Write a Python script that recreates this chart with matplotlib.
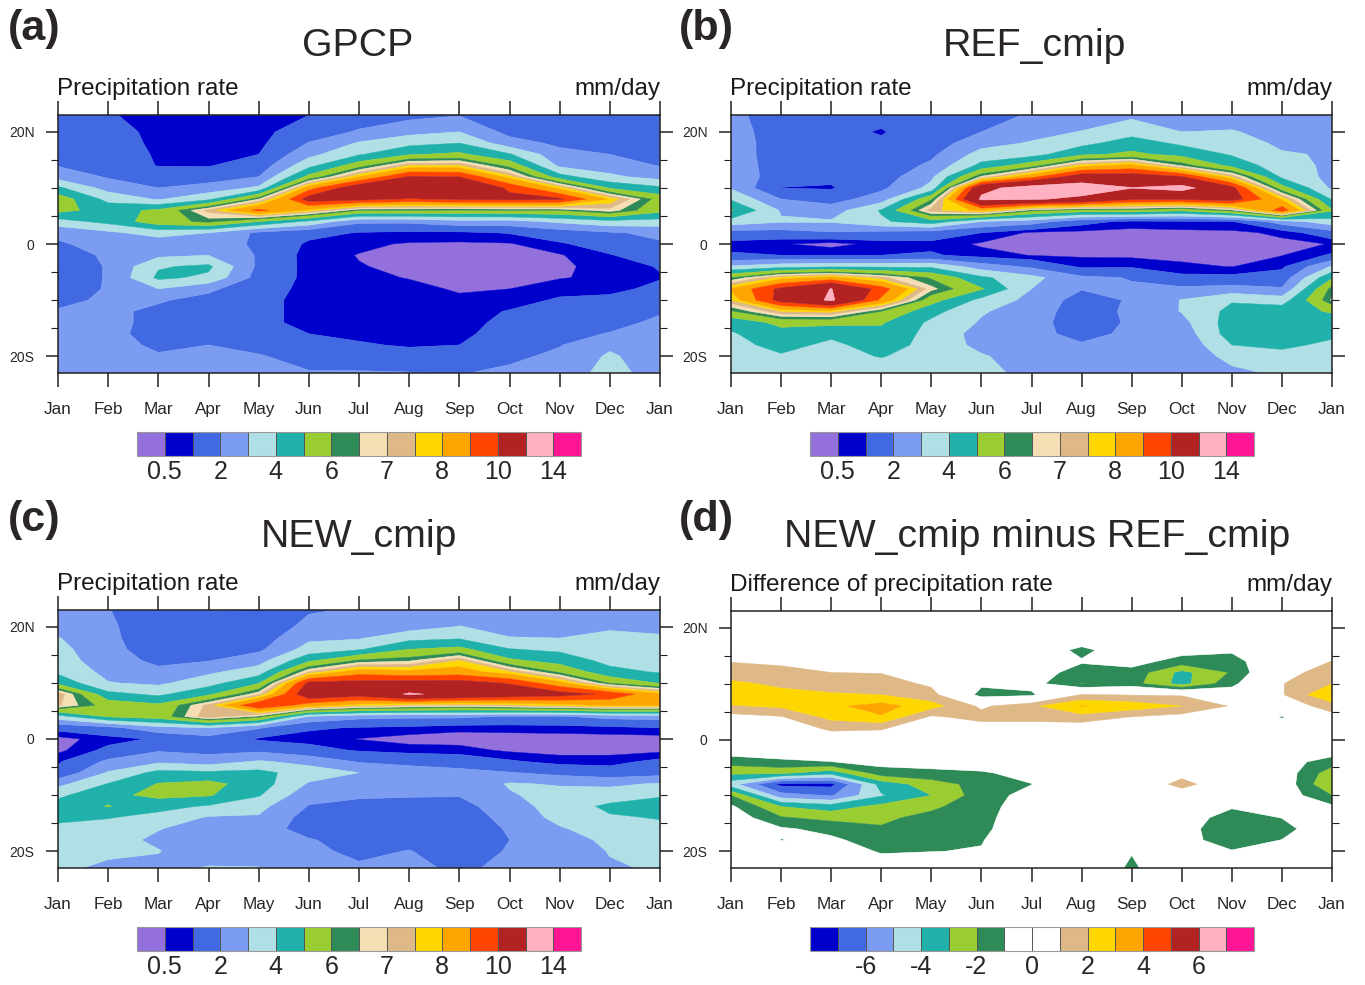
import numpy as np
import matplotlib
matplotlib.use('Agg')
import matplotlib.pyplot as plt
from matplotlib.ticker import MultipleLocator

plt.rcParams['font.family'] = ['Liberation Sans', 'DejaVu Sans']

W, H = 1365, 985

months = ['Jan', 'Feb', 'Mar', 'Apr', 'May', 'Jun', 'Jul', 'Aug', 'Sep', 'Oct', 'Nov', 'Dec', 'Jan']
lats = [23, 20, 18, 16, 14, 12, 10, 8, 6, 4, 2, 0, -2, -4, -6, -8, -10, -12, -14, -16, -18, -20, -23]

# one row per month, values run from north to south (mm/day)
gpcp = [
    [1.5, 1.5, 1.6, 1.8, 1.95, 2.6, 4.2, 5.6, 5.3, 3.6, 2.2, 1.9, 1.7, 1.6, 1.6, 1.7, 1.85, 2.05, 2.2, 2.3, 2.4, 2.4, 2.5],
    [1.05, 1.3, 1.35, 1.5, 1.7, 1.9, 2.6, 3.7, 4.6, 4.3, 2.8, 2.3, 2.1, 2.05, 2.05, 2.05, 2.1, 2.2, 2.3, 2.3, 2.4, 2.5, 2.5],
    [.8, .8, .85, .9, .95, 1.6, 2, 2.9, 5.2, 5.6, 3.4, 2.4, 2.8, 3.9, 4.2, 3, 2.1, 1.8, 1.7, 1.6, 1.8, 2.1, 2.3],
    [.75, .75, .8, .85, .95, 1.5, 2.4, 3.8, 7.2, 6.2, 3, 2.3, 3, 4.2, 3.8, 2.2, 1.7, 1.5, 1.4, 1.5, 2, 2.2, 2.4],
    [.7, .75, .8, 1, 1.4, 2, 3.2, 6.5, 9.3, 5, 1.8, 1.9, 1.9, 1.8, 1.6, 1.35, 1.2, 1.15, 1.1, 1.2, 1.6, 2.1, 2.4],
    [1, 1.5, 2.05, 2.7, 3.7, 5.3, 8.6, 10.6, 7.8, 3.8, 1.3, .85, .7, .75, .8, .8, .8, .85, .9, 1, 1.1, 1.5, 2.1],
    [1.5, 2.1, 3.1, 3.9, 5.6, 8, 11, 10.4, 6, 2.2, .95, .6, .48, .52, .6, .7, .75, .8, .85, .9, 1.05, 1.4, 2.1],
    [1.7, 2.7, 3.7, 4.9, 7.5, 10.1, 11.5, 9.9, 6, 2.2, .85, .45, .4, .42, .48, .62, .7, .75, .8, .85, .95, 1.2, 2.05],
    [1.95, 3, 4, 5.2, 7.5, 10, 11.5, 10.2, 5.9, 2.65, .85, .42, .38, .38, .4, .45, .58, .7, .75, .85, 1, 1.3, 1.95],
    [1.3, 1.7, 2.4, 4.1, 5.7, 7.7, 9.8, 10.3, 6, 2.6, 1.05, .45, .38, .38, .4, .5, .7, 1.05, 1.2, 1.3, 1.5, 1.8, 2.2],
    [.98, 1.5, 1.8, 2.3, 2.8, 4.4, 7.8, 10.2, 6, 3.2, 1.5, .9, .45, .4, .47, .75, 1.1, 1.3, 1.5, 1.7, 1.95, 2.2, 2.4],
    [1.2, 1.4, 1.7, 2, 2.5, 3.2, 4.9, 7.9, 6.8, 3.7, 1.9, 1.4, .95, .7, .6, .8, 1.2, 1.5, 1.7, 2.05, 2.8, 3.15, 3.4],
    [1.5, 1.5, 1.6, 1.8, 1.95, 2.6, 4.2, 5.6, 5.3, 3.6, 2.2, 1.9, 1.5, 1.05, .95, 1.2, 1.5, 1.9, 2.2, 2.3, 2.4, 2.4, 2.5],
]

ref_cmip = [
    [2.3, 2.5, 2.6, 2.6, 2.7, 2.8, 2.9, 3.9, 5.1, 3.6, 1.6, .75, 1.1, 3.1, 6, 8.1, 7.5, 5.9, 4.3, 3.9, 3.7, 3.5, 3.3],
    [1.4, 1.4, 1.4, 1.4, 1.4, 1.4, .98, 2, 2.9, 3.1, 1.6, .55, 1, 3.6, 7.7, 10.3, 10.5, 7.5, 5.3, 4.6, 4.3, 3.9, 3.5],
    [1.3, 1.2, 1.2, 1.2, 1.2, 1.2, .92, 1.6, 2.5, 3.1, 1.9, .3, .95, 3.8, 8.3, 12.05, 12.25, 7.7, 5.3, 4.2, 3.8, 3.7, 3.5],
    [1.2, .95, 1.1, 1.25, 1.35, 1.5, 1.8, 2.5, 4.1, 3.85, 1.7, .7, 1, 3.8, 7.2, 9.5, 8.8, 6, 5.1, 4.7, 4.4, 4.05, 3.5],
    [1.3, 1.4, 1.5, 1.8, 2.2, 2.8, 3.3, 5.9, 7.3, 4.6, 1.5, .8, 1.1, 3.8, 5.9, 6.7, 5.4, 4.35, 3.8, 3.7, 3.7, 3.6, 3.4],
    [1.6, 2, 2.6, 3.4, 4.3, 6.6, 11.5, 12.3, 8.2, 3, 1, .42, .7, 2.5, 4.2, 5.1, 3.7, 3.1, 2.9, 2.6, 2.7, 3.1, 3.3],
    [2.1, 2.6, 3.1, 3.6, 5.6, 8.7, 12.8, 12.2, 6.2, 2.5, .4, .35, .48, 1.8, 3.3, 3, 2.7, 2.5, 2.4, 2.3, 2.3, 2.5, 2.7],
    [2.3, 3.05, 3.7, 4.8, 7.7, 10.8, 13, 11.6, 5.6, 1.3, .35, .3, .42, .85, 2.2, 2.05, 1.6, 1.5, 1.45, 1.7, 2.1, 2.3, 2.6],
    [2.8, 3.6, 4.5, 5.2, 8.3, 10.7, 12.05, 10.2, 5.7, .8, .32, .28, .38, .9, 1.95, 2.1, 2.1, 2.2, 2.15, 2.2, 2.3, 2.5, 2.7],
    [2.4, 3, 3.8, 4.7, 6.4, 10.1, 12.6, 10.2, 5.2, .9, .35, .28, .35, .6, 1.2, 2.2, 3.05, 3.05, 2.7, 2.4, 2.2, 2.1, 2.1],
    [2.3, 3.1, 3.5, 3.9, 4.7, 7.4, 10.4, 10.6, 6.3, .95, .38, .28, .35, .48, 1.2, 2.4, 3.9, 4.3, 4.5, 4.5, 4, 3.4, 2.7],
    [2.2, 2.5, 2.8, 3.1, 3.4, 3.8, 5.4, 7.9, 9.6, 2.5, .6, .38, .48, .85, 1.4, 2.1, 3.5, 4.6, 4.5, 4.5, 4.2, 3.7, 3.2],
    [2.3, 2.5, 2.8, 2.9, 2.8, 2.7, 2.8, 3.9, 5.1, 3.6, 1.6, .52, 1.1, 3.1, 4.9, 6.3, 6.6, 5.1, 4.5, 4.2, 3.8, 3.5, 3.3],
]

new_cmip = [
    [2.1, 2.6, 3.05, 3.3, 3.5, 3.8, 4.7, 7.4, 7.1, 3.6, 1.3, .3, .35, .9, 1.2, 2.7, 3.8, 4.4, 4.2, 3.8, 3.4, 3.2, 3.2],
    [2.05, 2.2, 2.25, 2.3, 2.4, 2.7, 3.05, 4.3, 5.6, 5.1, 1.7, .75, 1.2, 2.2, 3.1, 4.05, 4.7, 5.05, 4.05, 3.6, 3.4, 3.2, 2.8],
    [1.2, 1.25, 1.3, 1.5, 1.8, 2.2, 2.8, 3.8, 5.2, 5.5, 2.7, 1.1, 1.9, 2.8, 4.3, 5.05, 5.3, 4.3, 3.7, 3.05, 2.8, 3.05, 2.7],
    [1, 1.2, 1.25, 1.5, 1.95, 2.8, 3.6, 4.8, 7.2, 7.4, 3, 1.6, 1.7, 2.5, 4.2, 5.3, 5.1, 3.9, 2.9, 2.5, 2.4, 2.3, 3.1],
    [.98, 1.3, 1.5, 1.8, 2.6, 3.5, 4.9, 6.9, 10, 6.3, 2.1, .9, 1.8, 3.1, 4.3, 4.5, 4.1, 3.3, 2.9, 2.6, 2.4, 2.3, 3.05],
    [1.9, 2.3, 2.8, 3.4, 4.8, 7, 10.3, 11, 8.5, 2.9, 1.1, .75, 1.3, 2.7, 3.5, 2.9, 2.3, 1.95, 1.6, 1.5, 2.1, 2.3, 2.6],
    [2.1, 2.5, 2.9, 3.9, 6.1, 8.5, 10.4, 10.6, 7.6, 2.3, .95, .48, .92, 1.9, 3, 2.5, 2.1, 1.8, 1.6, 1.5, 1.5, 1.7, 2.2],
    [2.2, 2.6, 3.7, 5, 6.4, 8.2, 10.5, 12.2, 7.2, 2.2, .85, .28, .75, 1.7, 2.5, 2.3, 2.05, 1.8, 1.5, 1.4, 1.6, 2.05, 2.4],
    [2.3, 3.05, 3.9, 5.3, 7.5, 8.4, 10.5, 11.5, 7, 2.2, .65, .25, .7, 1.5, 2.3, 2.2, 2.05, 1.7, 1.5, 1.4, 1.4, 1.4, 1.7],
    [2.1, 2.6, 3.05, 4.05, 5.2, 7.5, 9.9, 10.9, 7.3, 1.9, .7, .25, .4, 1.1, 2.05, 3.1, 2.9, 2.5, 2.3, 2.1, 2, 2.1, 2.4],
    [2.1, 2.6, 3, 3.8, 4.6, 5.8, 8.3, 10.5, 7.7, 1.9, .75, .25, .3, .75, 1.7, 2.9, 3.4, 3.5, 3.3, 2.9, 2.6, 2.4, 2.3],
    [2.3, 2.9, 3.2, 3.4, 3.7, 4.3, 5.9, 9.8, 8.1, 2.3, .85, .25, .3, .75, 1.4, 2.8, 3.5, 4.2, 3.9, 3.5, 3.2, 3.05, 2.9],
    [2.2, 2.8, 3.1, 3.3, 3.5, 3.9, 4.9, 8.2, 8, 2.4, 1, .25, .35, 1.2, 1.6, 3.1, 3.9, 4.4, 4.05, 3.8, 3.5, 3.3, 3.1],
]

new_minus_ref = [
    [0, .1, .2, .4, .95, 1.5, 2.2, 3, 1.9, .6, .2, -.1, -.4, -1.6, -2.8, -4.6, -2, -.8, -.3, -.2, -.2, -.1, 0],
    [0, .1, .2, .4, .8, 1.3, 1.8, 2.3, 2.2, .9, .3, -.1, -.4, -1.2, -2.8, -7.3, -5.6, -3, -1.9, -.85, -1.02, -.4, -.1],
    [0, .1, .2, .4, .7, 1, 1.6, 2.1, 2.8, 2.3, 1.2, .4, -.2, -1.02, -3.6, -7.3, -6.1, -3.5, -2.3, -1.3, -.8, -.4, -.1],
    [0, .1, .2, .4, .7, .95, 1.5, 2, 3.4, 2.9, 1.1, .4, -.1, -.6, -1.5, -3.6, -4.1, -2.7, -2.2, -1.9, -1.5, -1.1, -.4],
    [0, .1, .1, .2, .3, .5, .8, 1.4, 2.4, .8, .3, .1, -.1, -.5, -1.3, -2.5, -3, -2.2, -1.7, -1.5, -1.4, -1.02, -.3],
    [0, .1, 0, -.1, -.2, -.3, -.8, -1.4, .8, 1.4, .4, .1, -.1, -.5, -1.1, -1.6, -1.5, -1.4, -1.3, -1.2, -1.05, -.95, -.2],
    [0, 0, 0, -.1, -.2, -.5, -.6, -1.2, 1.8, 1.4, .4, .1, -.1, -.3, -.7, -1.02, -.6, -.4, -.3, -.3, -.2, -.2, -.1],
    [0, 0, -.3, -1.3, -.9, -1.4, -2.05, 1.1, 3.05, 1.6, .3, .1, -.1, -.1, -.1, -.1, -.1, -.1, -.1, -.1, -.1, -.1, -.2],
    [0, 0, -.1, -.2, -.6, -1.35, -1.6, .95, 2.6, .95, .3, .1, 0, 0, -.1, -.1, -.1, -.1, -.1, -.1, -.1, -.95, -1.15],
    [0, 0, -.1, -.6, -1.4, -3.3, -3.4, .9, 2, .6, .2, .1, 0, .1, .6, 1.4, .3, 0, -.5, -.7, -.7, -.2, -.2],
    [0, 0, -.1, -.8, -1.5, -1.9, -1.3, -.3, .9, .3, .1, 0, 0, 0, .1, .1, 0, -.9, -1.4, -1.5, -1.4, -.95, -.2],
    [.1, .1, .1, .2, .3, .6, .95, .9, .3, -1.1, -.1, 0, -.1, -.5, -.3, -.2, -.3, -.2, -.98, -1.35, -.98, -.3, -.1],
    [0, .1, .2, .5, 1.02, 1.5, 2, 3.05, 1.5, .6, .2, -.1, -.4, -1.5, -2.6, -3.1, -2, -.8, -.3, -.2, -.1, -.1, 0],
]

precip_levels = [0.5, 1, 2, 3, 4, 5, 6, 6.5, 7, 7.5, 8, 9, 10, 12, 14]
precip_ticks = [0.5, 2, 4, 6, 7, 8, 10, 14]
precip_labels = ['0.5', '2', '4', '6', '7', '8', '10', '14']
precip_colors = ['#9370db', '#0000cd', '#4169e1', '#7b9cf0', '#b0e0e6', '#20b2aa', '#9acd32', '#2e8b57',
                 '#f5deb3', '#deb887', '#ffd700', '#ffa500', '#ff4500', '#b22222', '#ffb0c1', '#ff1493']

diff_levels = [-7, -6, -5, -4, -3, -2, -1, 0, 1, 2, 3, 4, 5, 6, 7]
diff_ticks = [-6, -4, -2, 0, 2, 4, 6]
diff_labels = ['-6', '-4', '-2', '0', '2', '4', '6']
diff_colors = ['#0000cd', '#4169e1', '#7b9cf0', '#b0e0e6', '#20b2aa', '#9acd32', '#2e8b57', '#ffffff',
               '#ffffff', '#deb887', '#ffd700', '#ffa500', '#ff4500', '#b22222', '#ffb0c1', '#ff1493']

TEXT = '#2a2626'


def px_axes(fig, x0, y0, x1, y1):
    return fig.add_axes([x0 / W, 1 - y1 / H, (x1 - x0) / W, (y1 - y0) / H])


def panel(fig, box, cbox, data, levels, colors, ticks, labels, tag, tag_xy, title, title_x, title_y, left_text):
    ax = px_axes(fig, *box)
    z = np.array(data).T
    cf = ax.contourf(np.arange(13), lats, z, levels=levels, colors=colors, extend='both', antialiased=True)
    cf.set_edgecolor('face')
    cf.set_linewidth(0.3)
    ax.set_xlim(0, 12)
    ax.set_ylim(-23, 23)
    ax.set_xticks(range(13))
    ax.set_xticklabels(months, fontsize=12.3, color=TEXT)
    ax.set_yticks([-20, 0, 20])
    ax.set_yticklabels(['20S', '0', '20N'], fontsize=10, color=TEXT)
    ax.yaxis.set_minor_locator(MultipleLocator(5))
    ax.tick_params(axis='x', which='major', top=True, length=10, width=1.1, pad=11, color='#222222')
    ax.tick_params(axis='y', which='major', right=True, length=9, width=1.1, pad=8, color='#222222')
    ax.tick_params(axis='y', which='minor', right=True, length=5, width=0.8, color='#222222')
    for s in ax.spines.values():
        s.set_linewidth(1.1)
        s.set_color('#222222')

    y_head = 1 - (box[1] - 20) / H
    fig.text((box[0] - 1) / W, y_head, left_text, fontsize=17.5, color='#1a1a1a', ha='left', va='baseline')
    fig.text(box[2] / W, y_head, 'mm/day', fontsize=17.5, color='#1a1a1a', ha='right', va='baseline')
    fig.text(tag_xy[0] / W, 1 - tag_xy[1] / H, tag, fontsize=31, fontweight='bold', color=TEXT, ha='left', va='center')
    fig.text(title_x / W, 1 - title_y / H, title, fontsize=28.3, color=TEXT, ha='center', va='center')

    cax = px_axes(fig, *cbox)
    cb = fig.colorbar(cf, cax=cax, orientation='horizontal', spacing='uniform', extendrect=True,
                      extendfrac=1 / 14, drawedges=True, ticks=ticks)
    cb.set_ticklabels(labels)
    cb.ax.tick_params(length=0, labelsize=18, pad=3, labelcolor=TEXT)
    cb.ax.minorticks_off()
    cb.dividers.set_color('#555555')
    cb.dividers.set_linewidth(0.7)
    cb.outline.set_linewidth(0.8)
    cb.outline.set_edgecolor('#999999')


fig = plt.figure(figsize=(W / 100, H / 100), dpi=100)

panel(fig, (58, 115, 660, 373), (137, 432, 581, 456), gpcp, precip_levels, precip_colors, precip_ticks, precip_labels,
      '(a)', (8, 29), 'GPCP', 358, 46, 'Precipitation rate')
panel(fig, (731, 115, 1332, 373), (810, 432, 1254, 456), ref_cmip, precip_levels, precip_colors, precip_ticks, precip_labels,
      '(b)', (679, 29), 'REF_cmip', 1034, 46, 'Precipitation rate')
panel(fig, (58, 610, 660, 868), (137, 927, 581, 951), new_cmip, precip_levels, precip_colors, precip_ticks, precip_labels,
      '(c)', (8, 520), 'NEW_cmip', 359, 537, 'Precipitation rate')
panel(fig, (731, 611, 1332, 868), (810, 927, 1254, 951), new_minus_ref, diff_levels, diff_colors, diff_ticks, diff_labels,
      '(d)', (679, 520), 'NEW_cmip minus REF_cmip', 1037, 537, 'Difference of precipitation rate')

fig.savefig('out.png', dpi=100)
